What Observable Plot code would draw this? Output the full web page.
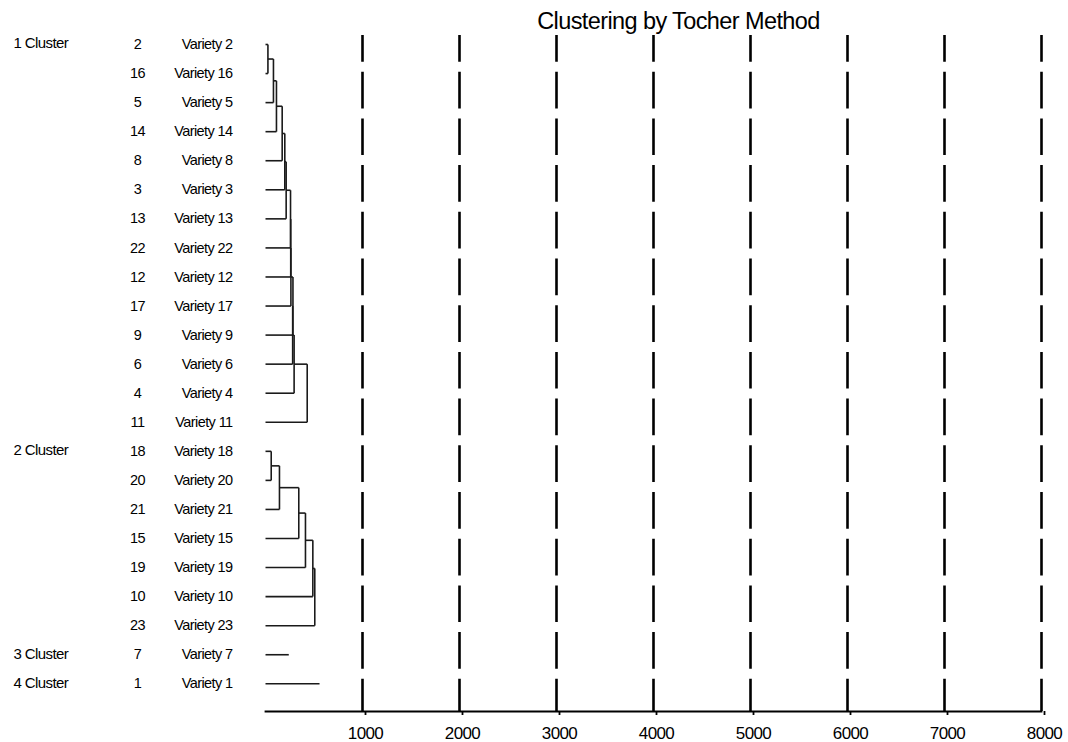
<!DOCTYPE html>
<html>
<head>
<meta charset="utf-8">
<script src="https://cdn.jsdelivr.net/npm/d3@7"></script>
<script src="https://cdn.jsdelivr.net/npm/@observablehq/plot@0.6"></script>
<style>
  html, body { margin: 0; padding: 0; background: #fff; }
  #chart svg text { letter-spacing: -0.6px; }
</style>
</head>
<body>
<div id="chart"></div>
<script>
// ---- data ----
const title = "Clustering by Tocher Method";
const clusterNames = ["1 Cluster", "2 Cluster", "3 Cluster", "4 Cluster"];
// varieties in dendrogram order, grouped by cluster
const cluster1 = [2, 16, 5, 14, 8, 3, 13, 22, 12, 17, 9, 6, 4, 11];
const cluster2 = [18, 20, 21, 15, 19, 10, 23];
const cluster3 = [7];
const cluster4 = [1];
// successive join distances inside each cluster (Tocher sequential chain)
const joins1 = [25, 82, 113, 172, 199, 213, 258, 260, 262, 283, 280, 295, 430];
const joins2 = [59, 144, 343, 412, 488, 508];
// stub lengths for single-member clusters
const joins3 = [240];
const joins4 = [557];
const xTicks = [1000, 2000, 3000, 4000, 5000, 6000, 7000, 8000];
const xMax = 8000;

// ---- build rows and dendrogram segments ----
const clusters = [cluster1, cluster2, cluster3, cluster4];
const joins = [joins1, joins2, joins3, joins4];
const rows = [];
const clusterRows = [];
const segs = [];
let idx = 0;
clusters.forEach((members, c) => {
  const start = idx;
  clusterRows.push({i: start, name: clusterNames[c]});
  members.forEach((v, k) => rows.push({i: start + k, variety: v}));
  const h = joins[c];
  if (members.length === 1) {
    segs.push({x1: 0, y1: start, x2: h[0], y2: start});
  } else {
    let prev = {x: 0, y: start};
    for (let k = 1; k < members.length; k++) {
      const hk = h[k - 1];
      const yk = start + k;
      segs.push({x1: prev.x, y1: prev.y, x2: hk, y2: prev.y});
      segs.push({x1: 0, y1: yk, x2: hk, y2: yk});
      segs.push({x1: hk, y1: prev.y, x2: hk, y2: yk});
      prev = {x: hk, y: (prev.y + yk) / 2};
    }
  }
  idx += members.length;
});
const nRows = idx;

const W = 1068, H = 742;
const mLeft = 265, mRight = 27, mTop = 35, mBottom = 31;

const chart = Plot.plot({
  width: W,
  height: H,
  marginLeft: mLeft,
  marginRight: mRight,
  marginTop: mTop,
  marginBottom: mBottom,
  style: {fontFamily: "'Liberation Sans', Arial, sans-serif", color: "#000", background: "#fff"},
  x: {type: "linear", domain: [0, xMax], axis: null},
  y: {type: "linear", domain: [0, nRows - 1], range: [44, 683.3], axis: null},
  marks: [
    Plot.ruleX(xTicks, {stroke: "#000", strokeWidth: 2.6, strokeDasharray: "36.7,10", strokeDashoffset: 10}),
    Plot.frame({anchor: "bottom", stroke: "#000", strokeWidth: 1.8}),
    Plot.axisX(xTicks, {tickSize: 4, tickPadding: 11, strokeWidth: 1.8, fontSize: 17, tickFormat: d => String(d), label: null, dx: 3}),
    Plot.link(segs, {x1: "x1", y1: "y1", x2: "x2", y2: "y2", stroke: "#1a1a1a", strokeWidth: 1.6}),
    Plot.text(rows, {y: "i", text: d => String(d.variety), frameAnchor: "left", dx: -128, textAnchor: "middle", fontSize: 14.5}),
    Plot.text(rows, {y: "i", text: d => "Variety " + d.variety, frameAnchor: "left", dx: -33, textAnchor: "end", fontSize: 14.5}),
    Plot.text(clusterRows, {y: "i", text: "name", frameAnchor: "left", dx: -252, dy: -1, textAnchor: "start", fontSize: 15}),
    Plot.text([title], {frameAnchor: "top", dx: 25, dy: -23.3, lineAnchor: "top", fontSize: 23.5})
  ]
});
document.getElementById("chart").appendChild(chart);
</script>
</body>
</html>
